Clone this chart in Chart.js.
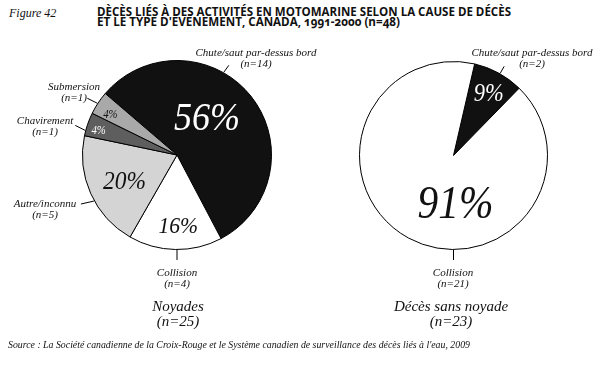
<!DOCTYPE html>
<html>
<head>
<meta charset="utf-8">
<script src="https://cdn.jsdelivr.net/npm/chart.js@4.4.1/dist/chart.umd.min.js"></script>
<style>
  body { margin: 0; background: #fff; width: 611px; height: 367px; position: relative; overflow: hidden; font-family: "Liberation Serif", serif; }
  .t { position: absolute; white-space: nowrap; color: #111; }
  .fit { transform-origin: 0 0; display: inline-block; }
  .ttl { font-family: "Open Sans", sans-serif; font-weight: 700; font-size: 12px; line-height: 10px; font-feature-settings: "onum"; }
  .cap { font-style: italic; font-size: 15px; line-height: 15px; text-align: center; width: 200px; }
  .box { position: absolute; top: 0; height: 367px; }
</style>
</head>
<body>
<div class="t" style="left:9px;top:7px;font-style:italic;font-size:12px;line-height:12px;">Figure 42</div>
<div class="t ttl" style="left:97px;top:7px;">
  <div><span class="fit" id="t1" data-w="414">DÈCÈS LIÉS À DES ACTIVITÉS EN MOTOMARINE SELON LA CAUSE DE DÉCÈS</span></div>
  <div><span class="fit" id="t2" data-w="303">ET LE TYPE D'ÉVÉNEMENT, CANADA, 1991-2000 (n=48)</span></div>
</div>

<div class="box" style="left:305px;width:306px;"><canvas id="pieR"></canvas></div>
<div class="box" style="left:0;width:335px;"><canvas id="pieL"></canvas></div>

<div class="t cap" style="left:78px;top:299px;">Noyades<br>(n=25)</div>
<div class="t cap" style="left:351px;top:299px;">Décès sans noyade<br>(n=23)</div>
<div class="t" style="left:8px;top:340px;font-style:italic;font-size:10px;line-height:10px;"><span class="fit" id="src" data-w="462">Source : La Société canadienne de la Croix-Rouge et le Système canadien de surveillance des décès liés à l'eau, 2009</span></div>

<script>
// données
const causesNoyade = ['Chute/saut par-dessus bord', 'Collision', 'Autre/inconnu', 'Chavirement', 'Submersion'];
const nNoyade = [14, 4, 5, 1, 1];
const causesSans = ['Chute/saut par-dessus bord', 'Collision'];
const nSans = [2, 21];

const rad = d => d * Math.PI / 180;

// pourcentages dans les parts + étiquettes avec traits de rappel
const pieLabels = {
  id: 'pieLabels',
  afterDatasetsDraw(chart, args, opts) {
    const ctx = chart.ctx;
    const arcs = chart.getDatasetMeta(0).data;
    const vals = chart.data.datasets[0].data;
    const labels = chart.data.labels;
    const total = vals.reduce((a, b) => a + b, 0);
    ctx.save();
    arcs.forEach((arc, i) => {
      const p = opts.pct[i];
      const mid = (arc.startAngle + arc.endAngle) / 2 + rad(p.shift);
      const r = arc.outerRadius * p.r;
      const x = arc.x + Math.cos(mid) * r;
      const y = arc.y + Math.sin(mid) * r;
      ctx.save();
      ctx.translate(x, y);
      ctx.scale(0.9, 1);
      ctx.font = 'italic ' + p.size + 'px "Liberation Serif"';
      ctx.fillStyle = p.color;
      ctx.textAlign = 'center';
      ctx.textBaseline = 'alphabetic';
      ctx.fillText(Math.round(vals[i] / total * 100) + '%', 0, p.size * 0.33);
      ctx.restore();

      // trait de rappel depuis le bord de la part
      const c = opts.callouts[i];
      const a = rad(c.edge);
      const x0 = arc.x + Math.cos(a) * (arc.outerRadius + 0.5);
      const y0 = arc.y + Math.sin(a) * (arc.outerRadius + 0.5);
      ctx.strokeStyle = '#000';
      ctx.lineWidth = 1;
      ctx.beginPath();
      ctx.moveTo(x0, y0);
      ctx.lineTo(x0 + c.dx, y0 + c.dy);
      ctx.stroke();

      ctx.font = 'italic 11px "Liberation Serif"';
      ctx.fillStyle = '#111';
      ctx.textAlign = 'center';
      ctx.fillText(labels[i], c.x, c.y);
      ctx.fillText('(n=' + vals[i] + ')', c.x, c.y + 11);
    });
    ctx.restore();
  }
};

function makePie(id, labels, values, colors, rotation, padding, pct, callouts) {
  return new Chart(document.getElementById(id), {
    type: 'pie',
    data: {
      labels: labels,
      datasets: [{
        data: values,
        backgroundColor: colors,
        borderColor: '#000',
        borderWidth: 1,
        hoverOffset: 0
      }]
    },
    options: {
      responsive: true,
      maintainAspectRatio: false,
      animation: false,
      rotation: rotation,
      layout: { padding: padding },
      events: [],
      plugins: {
        legend: { display: false },
        tooltip: { enabled: false },
        pieLabels: { pct: pct, callouts: callouts }
      }
    },
    plugins: [pieLabels]
  });
}

makePie('pieL', causesNoyade, nNoyade,
  ['#111111', '#ffffff', '#d4d4d4', '#5e5e5e', '#a9a9a9'],
  -49.4,
  { left: 82, right: 63, top: 60, bottom: 117 },
  [
    { r: 0.51, shift: -13, size: 40, color: '#fff' },
    { r: 0.74, shift: -2, size: 24, color: '#111' },
    { r: 0.62, shift: -2, size: 26, color: '#111' },
    { r: 0.87, shift: -1.5, size: 12, color: '#fff' },
    { r: 0.83, shift: -1.5, size: 12, color: '#111' }
  ],
  [
    { edge: -60.5, dx: 5, dy: -7, x: 256, y: 56 },
    { edge: 90, dx: 0, dy: 10, x: 177, y: 276 },
    { edge: 151, dx: -13, dy: 3, x: 45, y: 207 },
    { edge: 195, dx: -10, dy: -5, x: 45, y: 124 },
    { edge: 213, dx: -10, dy: -5, x: 74, y: 90 }
  ]);

makePie('pieR', causesSans, nSans,
  ['#111111', '#ffffff'],
  13,
  { left: 54, right: 63, top: 61, bottom: 117 },
  [
    { r: 0.77, shift: 0.5, size: 25, color: '#fff' },
    { r: 0.5, shift: -31, size: 46, color: '#111' }
  ],
  [
    { edge: -60.4, dx: 4, dy: -7, x: 227, y: 56 },
    { edge: 90, dx: 0, dy: 10, x: 148, y: 276 }
  ]);

// ajuste la largeur des textes étroits
document.querySelectorAll('.fit').forEach(el => {
  const w = el.getBoundingClientRect().width;
  el.style.transform = 'scaleX(' + (el.dataset.w / w) + ')';
});
</script>
</body>
</html>
